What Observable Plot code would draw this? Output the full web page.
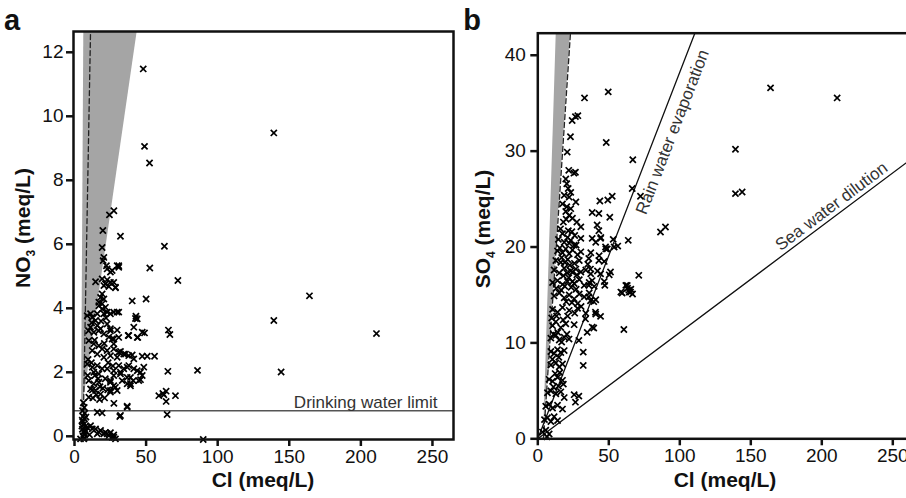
<!DOCTYPE html>
<html><head><meta charset="utf-8">
<script src="https://cdn.jsdelivr.net/npm/d3@7"></script>
<script src="https://cdn.jsdelivr.net/npm/@observablehq/plot@0.6"></script>
<style>
html,body{margin:0;padding:0;background:#fff;}
#wrap{position:relative;width:906px;height:498px;overflow:hidden;background:#fff;}
#wrap svg{position:absolute;top:0;}
</style></head><body><div id="wrap"></div>
<script>
// ---------- DATA ----------
const xTicks = [0, 50, 100, 150, 200, 250];
const yTicksA = [0, 2, 4, 6, 8, 10, 12];
const yTicksB = [0, 10, 20, 30, 40];
const drinkingLimit = 0.8;

// Panel a: [Cl, NO3] (meq/L)
const no3Points = [
[48.0,11.48],[48.9,9.06],[52.4,8.54],[139.2,9.48],[27.5,7.05],[24.4,6.92],[19.8,6.43],[32.1,6.25],[62.8,5.94],[19.3,5.9],
[52.6,5.26],[72.2,4.87],[164.1,4.39],[139.2,3.62],[210.9,3.21],[144.3,2.01],[85.9,2.06],[65.2,2.03],[65.6,3.32],[66.6,3.18],
[40.3,4.23],[50.0,4.29],[42.6,3.68],[42.9,3.75],[41.4,3.41],[48.9,3.23],[44.2,3.09],[37.5,3.15],[29.8,3.32],
[55.9,2.5],[50.8,2.5],[47.3,2.5],[48.4,2.16],[43.8,2.05],[46.1,1.77],[39.1,1.58],[41.0,1.74],
[70.5,1.27],[64.0,1.41],[61.7,1.34],[58.9,1.27],[62.4,1.30],[64.0,1.09],[64.7,0.68],[36.8,0.91],[31.6,0.62],[27.5,1.03],[89.9,-0.1],
[20.5,5.59],[20.0,5.49],[22.3,5.33],[29.8,5.33],[26.3,5.18],[30.9,5.28],[22.8,5.23],
[14.7,4.83],[19.3,4.92],[22.8,4.89],[25.1,4.81],[21.6,4.76],[24.0,4.68],[28.6,4.64],[25.1,5.13],[27.4,4.81],[20.5,4.71],
[19.3,4.45],[18.2,4.34],[20.5,4.29],[17.0,4.19],[19.3,4.14],[21.6,4.03],[19.3,3.98],[17.0,4.08],
[11.2,3.83],[15.9,3.83],[20.5,3.83],[25.1,3.83],[29.8,3.88],[22.8,3.88],[27.4,3.88],[30.9,3.88],
[8.9,3.77],[12.4,3.72],[14.7,3.62],[15.9,3.46],[11.2,3.41],[13.5,3.25],[18.2,3.36],[20.5,3.2],[22.8,3.51],[25.1,3.3],[27.4,3.04],[30.9,3.09],
[43.8,3.67],[37.9,3.15],[43.8,3.09],[47.3,3.25],
[10,2.99],[13.5,2.89],[17,2.83],[19.3,2.73],[12.4,2.68],[15.9,2.57],[22.8,2.68],[27.4,2.89],[30.9,2.63],[20.5,2.47],[25.1,2.52],[29.8,2.47],[34.4,2.57],[37.9,2.52],
[8.9,2.26],[12.4,2.16],[15.9,2.21],[19.3,2.11],[13.5,2.0],[17,1.95],[22.8,2.11],[27.4,2.05],[32.1,2.0],[36.8,2.16],[41.4,2.11],[46.1,2.0],
[10,1.74],[13.5,1.64],[17,1.69],[11.2,1.48],[14.7,1.43],[18.2,1.32],[25.1,1.74],[27.4,1.58],[25.1,1.43],[33.3,1.74],[36.8,1.64],[39.1,1.84],[44.9,1.74],[47.3,1.9],
[10,1.22],[15.9,0.75],[19.3,0.73],
[25.1,3.36],[26.3,3.04],[27.4,2.73],[32.1,2.65],[35.6,2.57],[40.3,2.54],[30.9,2.21],[34.4,2.11],[37.9,2.21],[41.4,2.42],[27.4,1.90],[32.1,1.95],[36.8,1.84],
[28.6,1.53],[39.1,1.64],[25.1,1.69],[25.1,1.38],[29.8,1.43],[36.8,0.94],[32.1,0.65],
[11.2,0.33],[14.7,0.23],[18.2,0.18],[21.6,0.12],[25.1,0.11],[27.4,0.04],[8.9,0.28],[12.4,0.23],[17,0.13],[20.5,0.08],[24,0.02],[27.4,-0.03],
[15.9,0.08],[22.8,0.08],[26.3,-0.03],[28.6,-0.08],[4.2,-0.08],[6.5,-0.08],[10.5,0.05],
[6.2,1.05],[6.8,0.9],[5.6,0.8],[7.2,0.72],[6.0,0.62],[7.0,0.55],[5.8,0.45],[6.6,0.38],[7.4,0.3],[5.5,0.22],[6.4,0.14],[7.1,0.06],[5.9,0.0],[6.8,-0.05],[5.4,0.5],[8.0,0.6],[7.8,0.15],[5.2,0.32],
[9.5,2.4],[11.8,2.3],[14.2,1.9],[16.5,1.8],[12.8,1.2],[15.2,1.3],[17.8,1.55],[19.8,1.5],[21.5,1.8],[23.5,2.3],[9.2,1.9],[20.8,2.9],[24,3.1],[22,3.7],[18.5,3.6],
[16.8,3.3],[14,3.0],[12,3.55],[9.8,3.3],[26.8,2.2],[23.2,1.45],[21,1.2],[12.5,1.45],[17.5,1.15],[30.9,5.33],[28.6,4.66]
];

// Panel b: [Cl, SO4] (meq/L)
const so4Points = [
[32.9,35.55],[49.6,36.18],[26.5,33.6],[24.2,33.2],[28.2,33.7],[23.0,31.5],[20.7,29.9],[48.2,30.9],[66.9,29.1],[163.9,36.6],[210.8,35.55],[139.2,30.2],[139.2,25.57],[143.9,25.74],
[86.4,21.57],[89.9,22.09],[66.5,26.1],[72.3,25.3],[52.4,25.3],[49.3,24.9],[43.7,24.8],
[26.5,27.8],[25.4,27.7],[21.8,28.0],[38.3,23.6],[43.0,23.5],[41.8,22.3],[43.0,21.7],[50.7,23.1],[53.1,20.8],[56.3,20.1],[48.9,19.8],[63.7,20.7],[38.3,20.9],[44.2,20.9],
[71.1,17.05],[51.2,17.4],[47.7,20.0],[63,16.0],[64.1,15.5],[65.3,15.3],[59.4,15.2],[60.6,11.4],[47.2,16.0],[44.2,12.77],[40.6,13.2],[39.4,11.55],[34.8,11.1],[32.0,9.04],[32.0,7.65],[28.9,10.26],[28.9,4.45],[26.5,3.82],
[43,18.6],[44.2,17.2],[35.9,18.8],[37.1,17.7],[38.3,16.5],[35.9,16.0],[35.9,14.8],[37.1,14.4],[39.4,14.3],[33.6,12.5],[38.3,11.65],
[63.2,15.7],[64.4,15.3],[66.7,15.1],[62,16.0],[58.5,15.3],[65.5,15.6],
[19.7,27.1],[20.4,26.6],[21.4,26.1],[23.2,25.7],[18.6,25.4],[22.1,25.2],[26.8,24.7],
[17.4,24.5],[20.4,24.2],[23.2,24.0],[19.7,23.7],[22.1,23.3],[24.4,23.0],[27.5,22.6],[30.3,22.1],
[17.4,21.4],[20.9,21.0],[23.2,20.7],[18.6,20.5],[22.1,20.4],[25.6,20.2],[30.3,20.9],[40.8,20.5],[44.4,21.0],[47.9,19.8],[53.8,20.0],
[13.9,19.6],[17.4,19.4],[19.7,19.8],[22.1,19.3],[24.4,19.7],[28,19.2],[30.3,19.5],[37.3,19.4],[43.2,19.1],
[12.7,18.6],[16.2,18.4],[21.1,18.7],[25.8,18.3],[29.2,18.6],[35.2,18.2],[46.8,18.5],
[11.5,17.6],[15.1,17.3],[18.6,17.8],[23.2,17.5],[26.8,17.7],[30.3,17.4],[33.8,17.6],[37.3,17.2],[42,17.5],[50.3,17.1],
[10.4,16.3],[13.9,16.5],[17.4,16.1],[20.9,16.4],[25.6,16.2],[29.2,16.6],[32.7,16.0],[36.2,16.3],[39.7,15.9],[46.8,16.4],
[11.5,14.9],[15.1,15.2],[18.6,14.7],[22.1,15.0],[25.6,14.6],[29.2,15.1],[32.7,14.8],[36.2,15.2],[40.8,14.5],
[10.4,13.5],[13.9,13.2],[17.4,13.7],[22.1,13.4],[28,13.6],[33.8,13.1],[40.8,13.0],
[10.4,11.8],[12.7,12.2],[16.2,11.6],[19.7,12.0],[25.6,11.9],
[9.2,10.5],[12.7,10.8],[15.1,10.3],[18.6,10.6],[22,10.4],
[9.2,9.1],[11.5,8.9],[13.9,9.3],[16.2,9.0],[18.6,9.2],
[9.2,7.7],[12.7,7.9],[15.1,7.5],[17.4,7.8],
[8,6.2],[10.4,6.0],[13.9,6.4],[17.4,6.1],
[6.8,4.8],[9.2,5.0],[12.7,4.7],[16.2,4.9],[18.6,4.3],[25.6,4.6],
[5.6,3.4],[8,3.6],[10.4,3.2],[13.9,3.5],[17.4,3.1],
[4.7,2.0],[6.8,2.2],[9.2,1.8],[11.5,2.3],[13.9,1.9],
[3.3,0.7],[5.6,0.9],[8.0,0.5],[6.5,0.2],
[14.5,20.8],[16,21.9],[18,22.6],[20,22.9],[21.5,21.7],[24,21.6],[26,21.2],[27,20.2],[15.5,19.9],[16.8,18.9],[19,18.4],[22.5,18.1],[24.5,17.4],[27.5,17.1],
[18,17.0],[20.5,17.3],[21.8,16.8],[24.4,16.4],[19,15.9],[23.5,15.8],[27,15.6],[16.5,15.5],[13,15.7],[20,14.3],[24,14.2],[28,14.1],
[13.2,12.8],[17.8,12.4],[21,12.8],[26,13.1],[30.5,13.8],[9.8,12.6],[11,10.9],[14,11.1],[16.8,10.1],[20.5,10.9],
[10.3,8.3],[14.8,8.5],[12.2,6.8],[15.5,6.9],[11,5.4],[14.5,5.5],[18,5.7]
];

// Reference lines / zones (data space)
const wedgeA = [[0.65, 4.9, 4.9], [12.65, 6.5, 43.8]];     // [NO3, Cl left, Cl right]
const dashedA = [[5.9, -0.1], [11.2, 12.65]];
const wedgeB = [[0, 4, 4], [42.3, 13, 23]];                 // [SO4, Cl left, Cl right]
const dashedB = [[4, 0], [23, 42.3]];
const rainLine = [[0, 0], [110.6, 42.3]];
const seaLine = [[0, 0], [265, 29.4]];

// ---------- RENDER ----------
const FONT = '"Liberation Sans", Arial, Helvetica, sans-serif';
const wrap = document.getElementById("wrap");

function axes(yTicks, yPad) {
  return [
    Plot.frame({stroke: "#111", strokeWidth: 2.5}),
    Plot.axisX({ticks: xTicks, tickSize: 7, tickPadding: 3, strokeWidth: 2.5, fontSize: 19, label: null, anchor: "bottom"}),
    Plot.axisY({ticks: yTicks, tickSize: 7, tickPadding: yPad, strokeWidth: 2.5, fontSize: 19, label: null, anchor: "left"})
  ];
}
const dotOpts = {x: d => d[0], y: d => d[1], symbol: "times", r: 2.9, stroke: "#000", strokeWidth: 1.7};

const plotA = Plot.plot({
  width: 460, height: 498,
  marginLeft: 73, marginRight: 7, marginTop: 31, marginBottom: 59,
  x: {domain: [-0.7, 264.7]},
  y: {domain: [-0.1, 12.65]},
  style: {fontFamily: FONT, color: "#111", background: "transparent", overflow: "visible"},
  marks: [
    Plot.areaX(wedgeA, {y: d => d[0], x1: d => d[1], x2: d => d[2], fill: "#a5a5a5", clip: true}),
    Plot.line(dashedA, {x: d => d[0], y: d => d[1], stroke: "#222", strokeWidth: 1.3, strokeDasharray: "5,3", clip: true}),
    Plot.ruleY([drinkingLimit], {stroke: "#555", strokeWidth: 1.4}),
    Plot.text(["Drinking water limit"], {x: 253.5, y: drinkingLimit, text: d => d, textAnchor: "end", lineAnchor: "bottom", dy: -3, fontSize: 17, fill: "#333"}),
    Plot.dot(no3Points, dotOpts),
    ...axes(yTicksA, 3)
  ]
});

const plotB = Plot.plot({
  width: 460, height: 498,
  marginLeft: 77.3, marginRight: 6.4, marginTop: 32.7, marginBottom: 59.7,
  x: {domain: [0, 265]},
  y: {domain: [0, 42.3]},
  style: {fontFamily: FONT, color: "#111", background: "transparent", overflow: "visible"},
  marks: [
    Plot.areaX(wedgeB, {y: d => d[0], x1: d => d[1], x2: d => d[2], fill: "#a5a5a5", clip: true}),
    Plot.line(dashedB, {x: d => d[0], y: d => d[1], stroke: "#222", strokeWidth: 1.3, strokeDasharray: "5,3", clip: true}),
    Plot.line(rainLine, {x: d => d[0], y: d => d[1], stroke: "#111", strokeWidth: 1.3, clip: true}),
    Plot.line(seaLine, {x: d => d[0], y: d => d[1], stroke: "#111", strokeWidth: 1.3, clip: true}),
    Plot.text(["Rain water evaporation"], {x: 94.9, y: 32.0, text: d => d, rotate: -68.8, textAnchor: "middle", lineAnchor: "middle", fontSize: 17, fill: "#333"}),
    Plot.text(["Sea water dilution"], {x: 206.8, y: 24.25, text: d => d, rotate: -36.9, textAnchor: "middle", lineAnchor: "middle", fontSize: 17, fill: "#333"}),
    Plot.dot(so4Points, dotOpts),
    ...axes(yTicksB, 5)
  ]
});

plotA.style.left = "0px";
plotB.style.left = "460px";
wrap.appendChild(plotA);
wrap.appendChild(plotB);

function addLabels(svg, letter, xCenter, yLabelX, yLabelY, main, sub) {
  const s = d3.select(svg);
  s.append("text").attr("x", 12).attr("y", 30).attr("font-family", FONT)
    .attr("font-weight", "bold").attr("font-size", 29).attr("fill", "#111").text(letter);
  s.append("text").attr("x", xCenter).attr("y", 487).attr("text-anchor", "middle")
    .attr("font-family", FONT).attr("font-weight", "bold").attr("font-size", 21).attr("fill", "#111")
    .text("Cl (meq/L)");
  const t = s.append("text").attr("transform", `translate(${yLabelX},${yLabelY}) rotate(-90)`)
    .attr("text-anchor", "middle").attr("font-family", FONT).attr("font-weight", "bold")
    .attr("font-size", 21).attr("fill", "#111");
  t.append("tspan").text(main);
  t.append("tspan").attr("font-size", 12).attr("dy", 5).text(sub);
  t.append("tspan").attr("dy", -5).text(" (meq/L)");
}
addLabels(plotA, "a", 263, 30, 228, "NO", "3");
addLabels(plotB, "b", 265, 30, 229, "SO", "4");
</script></body></html>
